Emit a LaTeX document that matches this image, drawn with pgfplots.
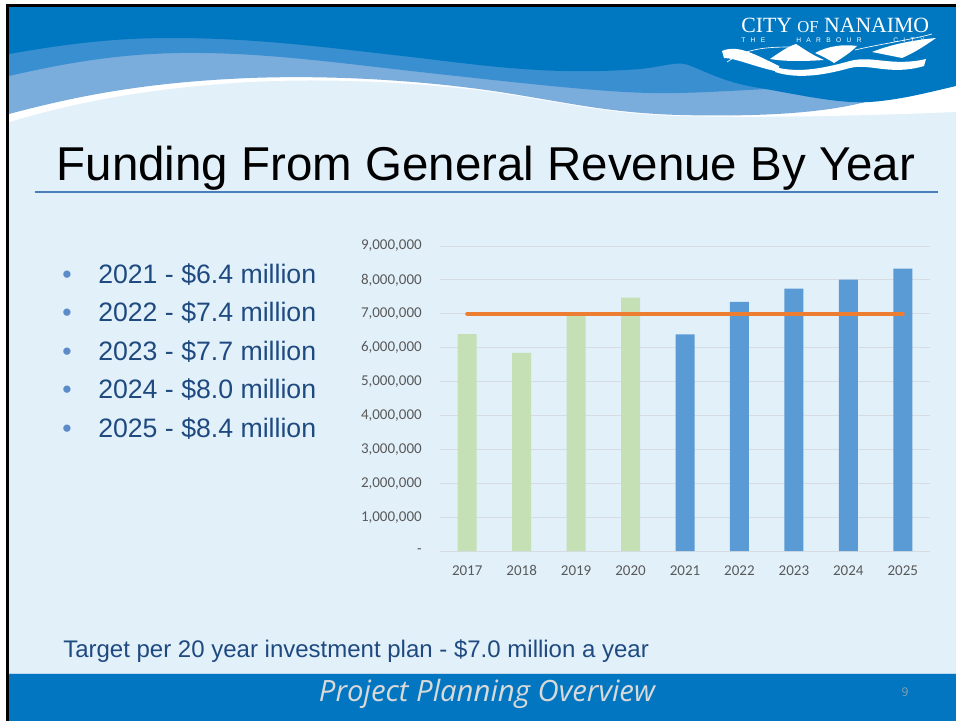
\documentclass[border=0pt]{standalone}
\usepackage{pgfplots}
\pgfplotsset{compat=1.18}
\usepackage{fontspec}
\setmainfont{Liberation Sans}
\newfontfamily\carlito{Carlito}
\newfontfamily\opensans{Open Sans}
\newfontfamily\serifl{Liberation Serif}
\definecolor{slidebg}{HTML}{E2F0FA}
\definecolor{darkblue}{HTML}{0078C1}
\definecolor{midband}{HTML}{3A8FD0}
\definecolor{lightband}{HTML}{7BADDC}
\definecolor{footerblue}{HTML}{0276C0}
\definecolor{footline}{HTML}{BDD7EE}
\definecolor{titleline}{HTML}{4A7EBB}
\definecolor{textblue}{HTML}{1F4A80}
\definecolor{bulletblue}{HTML}{5B8BC9}
\definecolor{bargreen}{HTML}{C5E0B4}
\definecolor{barblue}{HTML}{5B9BD5}
\definecolor{lineorange}{HTML}{ED7D31}
\definecolor{tickgray}{HTML}{595959}
\definecolor{gridgray}{HTML}{D6DCE2}
\definecolor{footgray}{HTML}{D9D9D9}
\definecolor{pagegray}{HTML}{8FA0B0}
\begin{document}
\begin{tikzpicture}
\begin{scope}[x=0.75pt,y=-0.75pt]
\fill[white] (0,0) rectangle (956,721);
\fill[slidebg] (6,4) rectangle (956,721);
% white stripe layer
\fill[white] (9,7) -- (9,122) .. controls (80,101) and (150,88) .. (250,82)
  .. controls (330,78) and (420,82) .. (500,93)
  .. controls (570,104) and (610,114) .. (680,116)
  .. controls (760,118) and (860,116) .. (956,112) -- (956,7) -- cycle;
% light band
\fill[lightband] (9,7) -- (9,114) .. controls (80,95) and (150,82) .. (250,78)
  .. controls (330,75) and (420,80) .. (500,92)
  .. controls (570,103) and (610,113) .. (680,115)
  .. controls (760,117) and (830,113) .. (872,100) -- (872,7) -- cycle;
% medium band
\fill[midband] (9,7) -- (9,76) .. controls (70,62) and (120,54) .. (180,53)
  .. controls (260,52) and (330,62) .. (420,72)
  .. controls (520,83) and (600,92) .. (650,93)
  .. controls (690,94) and (740,90) .. (790,88) -- (790,7) -- cycle;
% dark blue
\fill[darkblue] (9,7) -- (9,54) .. controls (60,45) and (110,38) .. (170,38)
  .. controls (260,38) and (330,48) .. (420,58)
  .. controls (500,68) and (560,75) .. (640,69)
  .. controls (660,67) and (675,62) .. (685,64)
  .. controls (700,68) and (720,82) .. (760,88)
  .. controls (800,95) and (840,104) .. (870,102)
  .. controls (900,100) and (930,92) .. (956,86) -- (956,7) -- cycle;
% footer
\fill[footerblue] (9,674) rectangle (956,721);
\draw[footline, line width=0.75pt] (9,673.5) -- (956,673.5);
% borders
\fill[black] (6,4) rectangle (956,7);
\fill[black] (6,4) rectangle (9,721);
% logo
\node[anchor=base west, inner sep=0, text=white, font=\serifl\fontsize{16.3}{16}\selectfont] at (741,32) {CITY {\fontsize{12.5}{12}\selectfont OF} NANAIMO};
\node[anchor=base west, inner sep=0, text=white, font=\fontsize{5}{5}\selectfont] at (741,42) {T\hspace{4pt}H\hspace{4pt}E};
\node[anchor=base west, inner sep=0, text=white, font=\fontsize{5}{5}\selectfont] at (796,42) {H\hspace{4pt}A\hspace{4pt}R\hspace{4pt}B\hspace{4pt}O\hspace{4pt}U\hspace{4pt}R};
\node[anchor=base west, inner sep=0, text=white, font=\fontsize{5}{5}\selectfont] at (893,42) {C\hspace{4pt}I\hspace{4pt}T\hspace{4pt}Y};
\fill[white] (722,51) .. controls (738,44) and (756,55) .. (779,66)
  -- (779,72) .. controls (752,66) and (735,58) .. (724,58) -- cycle;
\fill[white] (770,59) .. controls (780,52) and (789,46) .. (796,44)
  .. controls (804,49) and (812,55) .. (824,60)
  .. controls (808,61) and (788,62) .. (770,59) -- cycle;
\fill[white] (815,53) .. controls (828,46) and (843,44) .. (857,46)
  .. controls (850,53) and (842,58) .. (834,63)
  .. controls (828,59) and (822,56) .. (815,53) -- cycle;
\fill[white] (872,52) .. controls (892,44) and (914,40) .. (936,38)
  .. controls (926,45) and (914,53) .. (902,58)
  .. controls (892,56) and (882,54) .. (872,52) -- cycle;
\fill[white] (775,67) .. controls (800,74) and (828,67) .. (850,61)
  .. controls (872,55) and (892,67) .. (926,59)
  -- (924,66) .. controls (890,76) and (870,63) .. (850,68)
  .. controls (828,74) and (800,80) .. (775,72) -- cycle;
\draw[white, line width=0.5pt] (727,62) .. controls (745,50) and (760,47) .. (790,47);
\draw[white, line width=0.5pt] (855,50) .. controls (880,44) and (910,40) .. (932,34);
% title
\node[anchor=base, inner sep=0, font=\fontsize{35.6}{40}\selectfont] at (486,180) {Funding From General Revenue By Year};
\draw[titleline, line width=1.5pt] (35,192) -- (938,192);
% bullets
\foreach \y/\t in {283/{2021 - \$6.4 million}, 321.5/{2022 - \$7.4 million}, 360/{2023 - \$7.7 million}, 398.5/{2024 - \$8.0 million}, 437/{2025 - \$8.4 million}} {
  \node[anchor=base west, inner sep=0, text=textblue, font=\fontsize{20}{24}\selectfont] at (98,\y) {\t};
  \node[anchor=base, inner sep=0, text=bulletblue, font=\fontsize{20}{24}\selectfont] at (67,\y) {•};
}
% target
\node[anchor=base west, inner sep=0, text=textblue, font=\fontsize{18}{22}\selectfont] at (63,657) {Target per 20 year investment plan - \$7.0 million a year};
% footer text
\node[anchor=base, inner sep=0, text=footgray, font=\opensans\itshape\fontsize{22}{26}\selectfont] at (487,701) {Project Planning Overview};
\node[anchor=base, inner sep=0, text=pagegray, font=\opensans\fontsize{9}{10}\selectfont] at (905,696) {9};
\coordinate (ax) at (440,551);
\end{scope}
\begin{axis}[at={(ax)}, anchor=south west, width=367.5pt, height=228.75pt, scale only axis,
  xmin=2016.5, xmax=2025.5, ymin=0, ymax=9000000,
  axis line style={draw=none}, major tick length=0pt,
  xtick={2017,2018,2019,2020,2021,2022,2023,2024,2025},
  xticklabels={2017,2018,2019,2020,2021,2022,2023,2024,2025},
  ytick={0,1000000,2000000,3000000,4000000,5000000,6000000,7000000,8000000,9000000},
  yticklabels={{-\hspace{7pt}},{1,000,000},{2,000,000},{3,000,000},{4,000,000},{5,000,000},{6,000,000},{7,000,000},{8,000,000},{9,000,000}},
  scaled y ticks=false, scaled x ticks=false,
  ymajorgrids, grid style={gridgray, line width=0.75pt},
  ticklabel style={font=\carlito\fontsize{11.25}{12}\selectfont, text=tickgray},
  yticklabel style={inner sep=0pt, xshift=-13.5pt},
  xticklabel style={inner sep=0pt, yshift=-10.5pt},
  clip=false, /pgf/number format/assume math mode=true]
\addplot[ybar, bar width=14.25pt, bar shift=0pt, fill=bargreen, draw=none] coordinates {(2017,6400000) (2018,5850000) (2019,7000000) (2020,7480000)};
\addplot[ybar, bar width=14.25pt, bar shift=0pt, fill=barblue, draw=none] coordinates {(2021,6390000) (2022,7350000) (2023,7740000) (2024,8010000) (2025,8330000)};
\addplot[lineorange, line width=3pt, line cap=round] coordinates {(2017,7000000) (2025,7000000)};
\end{axis}
\pgfresetboundingbox
\path[use as bounding box] (0,0) rectangle (717pt,-540.75pt);
\end{tikzpicture}
\end{document}
